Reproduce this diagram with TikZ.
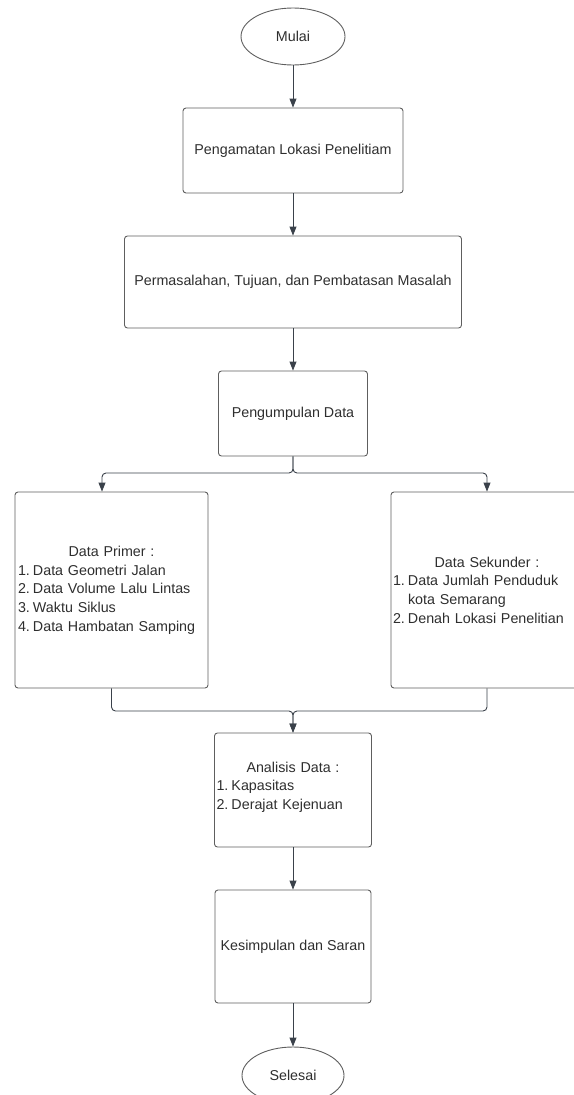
\documentclass[tikz,border=0pt]{standalone}
\usepackage{fontspec}
\setmainfont{Liberation Sans}
\usetikzlibrary{shapes.geometric,arrows.meta}
\definecolor{boxline}{HTML}{5E5E5E}
\definecolor{arrowline}{HTML}{3A414A}
\definecolor{txt}{HTML}{2E2E2E}
\newcommand{\itm}[2]{\par\noindent\hangindent=15pt\hangafter=1\makebox[15pt][l]{#1}#2\par}
\newcommand{\hdr}[1]{{\centering #1\par}}
\begin{document}
\begin{tikzpicture}[x=1pt,y=-1pt,
  every node/.style={font=\fontsize{14.3pt}{18.7pt}\selectfont, text=txt},
  boxst/.style={draw=boxline, line width=0.9pt, rounded corners=3pt, rectangle, inner sep=0pt},
  ovalst/.style={draw=boxline, line width=0.9pt, ellipse, inner sep=0pt},
  flow/.style={draw=arrowline, line width=0.9pt, -{Triangle[length=9pt,width=7pt]}, rounded corners=4pt}]
\useasboundingbox (0,0) rectangle (573,1095);
\node[ovalst, minimum width=104pt, minimum height=57pt] (mulai) at (293,36.5) {Mulai};
\node[boxst, minimum width=220pt, minimum height=85pt] (pengamatan) at (293,150.5) {Pengamatan Lokasi Penelitiam};
\node[boxst, minimum width=337pt, minimum height=92pt] (masalah) at (293,282) {Permasalahan, Tujuan, dan Pembatasan Masalah};
\node[boxst, minimum width=149pt, minimum height=85pt] (kumpul) at (293,413.5) {Pengumpulan Data};
\node[boxst, minimum width=193pt, minimum height=196pt, text width=187pt, inner xsep=3pt, align=left] (primer) at (111.5,590) {%
  \hdr{Data Primer :}%
  \itm{1.}{Data Geometri Jalan}%
  \itm{2.}{Data Volume Lalu Lintas}%
  \itm{3.}{Waktu Siklus}%
  \itm{4.}{Data Hambatan Samping}};
\node[boxst, minimum width=192pt, minimum height=196pt, text width=188pt, inner xsep=2pt, align=left] (sekunder) at (487,590) {%
  \hdr{Data Sekunder :}%
  \itm{1.}{Data Jumlah Penduduk\newline kota Semarang}%
  \itm{2.}{Denah Lokasi Penelitian}};
\node[boxst, minimum width=157pt, minimum height=114pt, text width=153pt, inner xsep=2pt, align=left] (analisis) at (293,790) {%
  \hdr{Analisis Data :}%
  \itm{1.}{Kapasitas}%
  \itm{2.}{Derajat Kejenuan}\vspace{6pt}};
\node[boxst, minimum width=156pt, minimum height=113pt] (simpul) at (293,946.5) {Kesimpulan dan Saran};
\node[ovalst, minimum width=102pt, minimum height=57pt] (selesai) at (293,1075.5) {Selesai};
\coordinate (sl) at (102,473);
\coordinate (sr) at (487,473);
\coordinate (mj) at (293,711);
\draw[flow] (mulai.south) -- (mulai.south |- pengamatan.north);
\draw[flow] (pengamatan.south) -- (pengamatan.south |- masalah.north);
\draw[flow] (masalah.south) -- (masalah.south |- kumpul.north);
\draw[flow] (kumpul.south) |- (sl) -- (sl |- primer.north);
\draw[flow] (kumpul.south) |- (sr) -- (sr |- sekunder.north);
\draw[flow] (primer.south) |- (mj) -- (mj |- analisis.north);
\draw[flow] (sekunder.south) |- (mj) -- (mj |- analisis.north);
\draw[flow] (analisis.south) -- (analisis.south |- simpul.north);
\draw[flow] (simpul.south) -- (simpul.south |- selesai.north);
\end{tikzpicture}
\end{document}
